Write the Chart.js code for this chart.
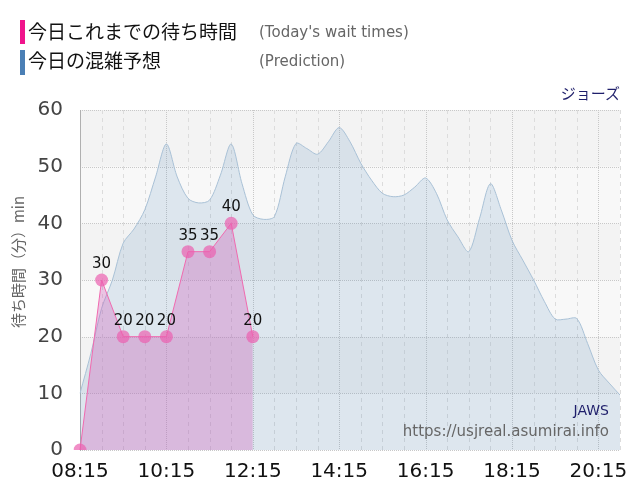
<!DOCTYPE html>
<html><head><meta charset="utf-8">
<script src="https://cdn.jsdelivr.net/npm/chart.js@4"></script>
<style>
html,body{margin:0;padding:0;background:#fff;width:640px;height:500px;overflow:hidden;}
#wrap{position:relative;width:640px;height:500px;}
canvas{position:absolute;left:0;top:0;}
.t{position:absolute;white-space:nowrap;font-family:"Noto Sans CJK JP","DejaVu Sans",sans-serif;}
.bar{position:absolute;width:5px;}
</style></head>
<body><div id="wrap">
<canvas id="c" width="640" height="500"></canvas>
<div class="bar" style="left:20px;top:20px;height:24px;background:#f0148c"></div>
<div class="t" style="left:28px;top:18px;font-size:19px;color:#111;line-height:26px">今日これまでの待ち時間</div>
<div class="t" style="left:259px;top:21px;font-size:15px;color:#666;line-height:22px;font-family:'DejaVu Sans'">(Today's wait times)</div>
<div class="bar" style="left:20px;top:50px;height:25px;background:#4a7fb5"></div>
<div class="t" style="left:28px;top:47px;font-size:19px;color:#111;line-height:26px">今日の混雑予想</div>
<div class="t" style="left:259px;top:50px;font-size:15px;color:#666;line-height:22px;font-family:'DejaVu Sans'">(Prediction)</div>
<div class="t" style="right:20px;top:82px;font-size:15px;color:#1f1f6b;line-height:22px">ジョーズ</div>
<div class="t" style="right:31px;top:400px;font-size:14px;color:#1f1f6b;line-height:20px;font-family:'DejaVu Sans'">JAWS</div>
<div class="t" style="right:31px;top:421px;font-size:15px;color:#666;line-height:20px;font-family:'DejaVu Sans'">https://usjreal.asumirai.info</div>
</div>
<script>
const timeLabels = ["08:15","08:30","08:45","09:00","09:15","09:30","09:45","10:00","10:15","10:30","10:45","11:00","11:15","11:30","11:45","12:00","12:15","12:30","12:45","13:00","13:15","13:30","13:45","14:00","14:15","14:30","14:45","15:00","15:15","15:30","15:45","16:00","16:15","16:30","16:45","17:00","17:15","17:30","17:45","18:00","18:15","18:30","18:45","19:00","19:15","19:30","19:45","20:00","20:15","20:30","20:45"];
const todayWait = [0,null,30,null,20,null,20,null,20,null,35,null,35,null,40,null,20];
const prediction = [10,17,25,30,36.5,39,42.4,48.2,54,48.2,44.4,43.6,44.1,48.5,54,47,41.5,40.7,41.2,48.2,54.1,53.2,52.2,54.4,56.9,54.4,50.6,47.6,45.3,44.7,45,46.4,48,45.3,40.6,37.6,35,40.9,47,42.4,37,33.5,30,26.2,23.1,23.1,23.2,18.8,14.1,11.8,9.7];
const yTicks = [0,10,20,30,40,50,60];
const xLabelEvery = 8;
const yTitle = '待ち時間（分）min';

const bgPlugin = {
  id:'bg',
  beforeDraw(chart){
    const {ctx, chartArea:a, scales:{x,y}} = chart;
    ctx.save();
    for(let i=0;i<yTicks.length-1;i++){
      const y0=y.getPixelForValue(yTicks[i]), y1=y.getPixelForValue(yTicks[i+1]);
      ctx.fillStyle = (i%2===0)?'#f8f8f8':'#f3f3f3';
      ctx.fillRect(a.left,y1,a.right-a.left,y0-y1);
    }
    ctx.strokeStyle='#c8c8c8';ctx.lineWidth=1;ctx.setLineDash([1,1]);
    yTicks.forEach(v=>{const p=Math.round(y.getPixelForValue(v))+0.5;ctx.beginPath();ctx.moveTo(a.left,p);ctx.lineTo(a.right,p);ctx.stroke();});
    timeLabels.forEach((l,i)=>{
      if(i%2!==0) return;
      const p=Math.round(x.getPixelForValue(i))+0.5;
      if(i%xLabelEvery===0){ctx.strokeStyle='#c8c8c8';ctx.setLineDash([1,1]);}
      else {ctx.strokeStyle='#dcdcdc';ctx.setLineDash([4,4]);}
      ctx.beginPath();ctx.moveTo(p,a.top);ctx.lineTo(p,a.bottom);ctx.stroke();
    });
    ctx.restore();
  },
  afterDraw(chart){
    const {ctx, chartArea:a} = chart;
    ctx.save();
    ctx.translate(18,(a.top+a.bottom)/2-18);
    ctx.rotate(-Math.PI/2);
    ctx.font='15px "Noto Sans CJK JP"';ctx.fillStyle='#666';ctx.textAlign='center';ctx.textBaseline='middle';
    ctx.fillText(yTitle,0,0);
    ctx.restore();
  }
};
const labelPlugin = {
  id:'lbl',
  afterDatasetsDraw(chart){
    const {ctx} = chart;
    const meta = chart.getDatasetMeta(0);
    ctx.save();
    ctx.font='15px "DejaVu Sans"';ctx.fillStyle='#111';ctx.textAlign='center';ctx.textBaseline='alphabetic';
    meta.data.forEach((pt,i)=>{
      const v=todayWait[i];
      if(v===null||v===undefined||v===0) return;
      ctx.fillText(String(v),pt.x,pt.y-12);
    });
    ctx.restore();
  }
};

new Chart(document.getElementById('c'),{
  type:'line',
  data:{labels:timeLabels,datasets:[
    {label:'today',data:todayWait,borderColor:'#f06aaf',borderWidth:1,backgroundColor:'rgba(210,100,190,0.35)',fill:'origin',
     pointRadius:6.5,pointBackgroundColor:'rgba(235,95,175,0.7)',pointBorderWidth:0,spanGaps:true,tension:0,order:0},
    {label:'pred',data:prediction,borderColor:'#a9c1d6',borderWidth:1,backgroundColor:'rgba(70,130,180,0.15)',fill:'origin',
     pointRadius:0,tension:0.3,order:1}
  ]},
  options:{
    responsive:false,animation:false,
    layout:{padding:{left:0,right:20,top:110,bottom:0}},
    plugins:{legend:{display:false},tooltip:{enabled:false}},
    scales:{
      x:{grid:{display:false,drawTicks:false},border:{display:false},
         afterFit(s){s.height=50;},
         ticks:{autoSkip:false,maxRotation:0,padding:10,color:'#111',font:{family:'DejaVu Sans',size:20},
           callback:(v,i)=> i%xLabelEvery===0?timeLabels[i]:''}},
      y:{min:0,max:60,afterFit(s){s.width=80;},
         grid:{display:false,drawTicks:false},border:{display:true,color:'#b0b0b0'},
         ticks:{stepSize:10,padding:17,color:'#444',font:{family:'DejaVu Sans',size:20}},
         title:{display:false}}
    }
  },
  plugins:[bgPlugin,labelPlugin]
});
</script></body></html>
